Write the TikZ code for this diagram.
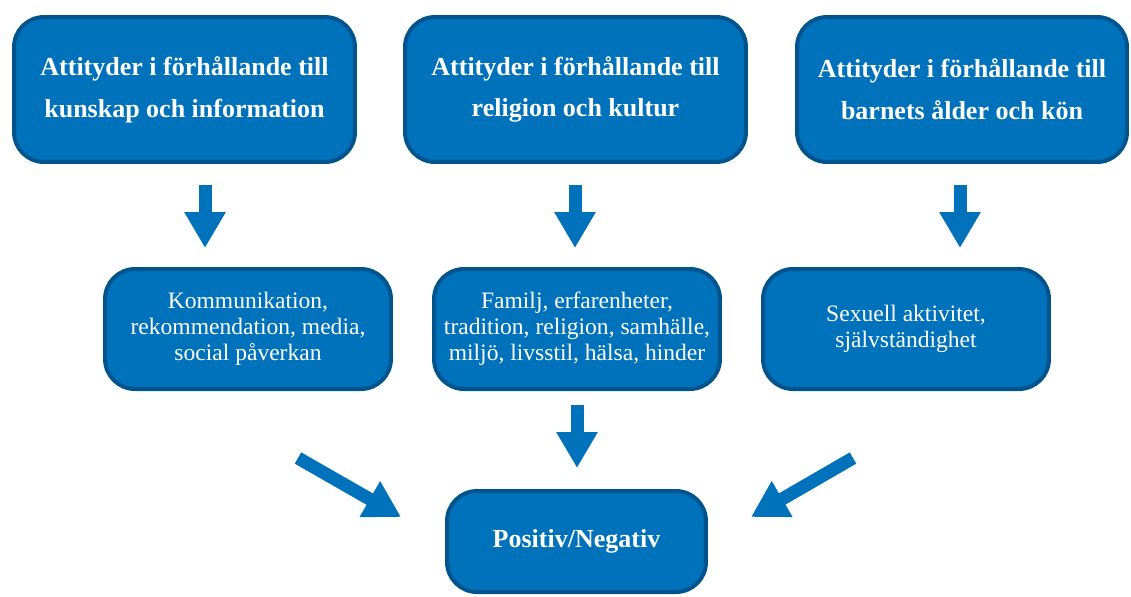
\documentclass[tikz,border=0pt]{standalone}
\usepackage{fontspec}
\setmainfont{Liberation Serif}
\usetikzlibrary{arrows.meta}
\definecolor{boxblue}{HTML}{0071BB}
\definecolor{rimblue}{HTML}{00548E}
\begin{document}
\begin{tikzpicture}[x=0.02cm,y=-0.02cm,
    box/.style={draw=rimblue,line width=0.08cm,fill=boxblue,rounded corners=0.6cm,
      text=white,align=center,inner sep=0pt},
    headbox/.style={box,minimum height=2.90cm,font=\fontsize{14.8}{23.8}\selectfont\bfseries},
    factbox/.style={box,minimum width=5.72cm,minimum height=2.40cm,font=\fontsize{13.4}{14.8}\selectfont},
    blockarrow/.style={draw=boxblue,line width=0.26cm,-{Triangle[length=0.72cm,width=0.78cm]}}]
  \useasboundingbox (0,0) rectangle (1131,596);
  % top row
  \node[headbox,minimum width=6.82cm] (t1) at (184.5,89.5) {Attityder i förhållande till\\kunskap och information};
  \node[headbox,minimum width=6.82cm] (t2) at (575.5,89.5) {Attityder i förhållande till\\religion och kultur};
  \node[headbox,minimum width=6.60cm] (t3) at (962,89.5) {Attityder i förhållande till\\barnets ålder och kön};
  % middle row
  \node[factbox] (m1) at (248,329) {Kommunikation,\\rekommendation, media,\\social påverkan};
  \node[factbox] (m2) at (577,329) {Familj, erfarenheter,\\tradition, religion, samhälle,\\miljö, livsstil, hälsa, hinder};
  \node[factbox] (m3) at (906,329) {Sexuell aktivitet,\\självständighet};
  % result
  \node[box,minimum width=5.18cm,minimum height=2.02cm,font=\fontsize{14.8}{17}\selectfont\bfseries] (res) at (576.5,541.5) {Positiv/Negativ};
  % arrow ends
  \coordinate (a1) at (205,185); \coordinate (b1) at (205,248);
  \coordinate (a2) at (575,185); \coordinate (b2) at (575,248);
  \coordinate (a3) at (960,185); \coordinate (b3) at (960,248);
  \coordinate (a4) at (577,405); \coordinate (b4) at (577,468);
  \coordinate (a5) at (298,458); \coordinate (b5) at (401,517);
  \coordinate (a6) at (853,458); \coordinate (b6) at (751,517);
  \foreach \i in {1,...,6}
    \draw[blockarrow] (a\i) -- (b\i);
\end{tikzpicture}
\end{document}
